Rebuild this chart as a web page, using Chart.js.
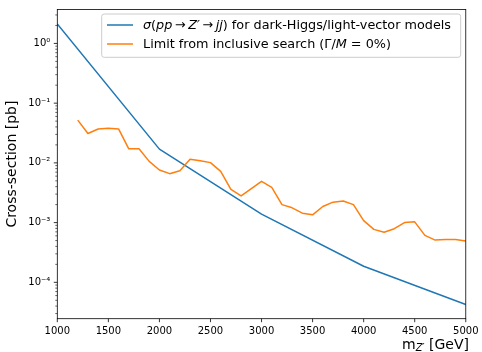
<!DOCTYPE html>
<html>
<head>
<meta charset="utf-8">
<script src="https://cdn.jsdelivr.net/npm/chart.js@4/dist/chart.umd.min.js"></script>
<style>
  html, body { margin: 0; padding: 0; background: #fff; }
</style>
</head>
<body>
<canvas id="xsec" width="482" height="352"></canvas>
<script>
// Z' -> jj cross-section (theory) and observed limit, in pb
const massTheory = [1000, 2000, 3000, 4000, 5000];
const xsecTheory = [2.12, 0.017, 0.00139, 0.000186, 0.0000424];

const massLimit = [1200, 1300, 1400, 1500, 1600, 1700, 1800, 1900, 2000, 2100,
  2200, 2300, 2400, 2500, 2600, 2700, 2800, 2900, 3000, 3100,
  3200, 3300, 3400, 3500, 3600, 3700, 3800, 3900, 4000, 4100,
  4200, 4300, 4400, 4500, 4600, 4700, 4800, 4900, 5000];
const xsecLimit = [0.052, 0.031, 0.037, 0.038, 0.037, 0.0172, 0.0172, 0.0106, 0.0076, 0.0066,
  0.0074, 0.0115, 0.0109, 0.0101, 0.0072, 0.0036, 0.0028, 0.0037, 0.0049, 0.0039,
  0.0020, 0.00177, 0.00144, 0.00135, 0.00186, 0.0022, 0.0023, 0.0020, 0.00108, 0.00077,
  0.00069, 0.00079, 0.00100, 0.00103, 0.00061, 0.00051, 0.00052, 0.00052, 0.00049];

const xTickValues = [1000, 1500, 2000, 2500, 3000, 3500, 4000, 4500, 5000];
const yDecades = [1e-4, 1e-3, 1e-2, 1e-1, 1];
const yDecadeLabels = ['10⁻⁴', '10⁻³', '10⁻²', '10⁻¹', '10⁰'];

const legendRows = [
  [{ t: 'σ', it: true }, { t: '(' }, { t: 'pp', it: true }, { t: '\u2009→\u2009' }, { t: 'Z′', it: true },
   { t: '\u2009→\u2009' }, { t: 'jj', it: true }, { t: ')' }, { t: ' for dark-Higgs/light-vector models' }],
  [{ t: 'Limit from inclusive search (' }, { t: 'Γ' }, { t: '/' }, { t: 'M', it: true },
   { t: ' = ' }, { t: '0%)' }]
];

const BLUE = '#1f77b4';
const ORANGE = '#ff7f0e';
const FONT = '"DejaVu Sans", sans-serif';

const yMin = 2.46e-5, yMax = 3.7;

// all tick positions on the log axis: 2..9 x 10^n plus the decades
function logTicks(lo, hi) {
  const out = [];
  for (let e = Math.floor(Math.log10(lo)); e <= Math.ceil(Math.log10(hi)); e++) {
    for (let m = 1; m < 10; m++) {
      const v = m * Math.pow(10, e);
      if (v >= lo && v <= hi) out.push(v);
    }
  }
  return out;
}

function isDecade(v) {
  const l = Math.log10(v);
  return Math.abs(l - Math.round(l)) < 1e-9;
}

function drawRich(ctx, x, y, segs, size) {
  for (const s of segs) {
    ctx.font = (s.it ? 'italic ' : '') + (s.size || size) + 'px ' + FONT;
    ctx.fillText(s.t, x, y + (s.dy || 0));
    x += ctx.measureText(s.t).width;
  }
  return x;
}

function richWidth(ctx, segs, size) {
  let w = 0;
  for (const s of segs) {
    ctx.font = (s.it ? 'italic ' : '') + (s.size || size) + 'px ' + FONT;
    w += ctx.measureText(s.t).width;
  }
  return w;
}

// spines, tick marks, legend box and axis titles
const decorations = {
  id: 'decorations',
  afterDraw(chart) {
    const ctx = chart.ctx;
    const area = chart.chartArea;
    const xs = chart.scales.x, ys = chart.scales.y;
    ctx.save();

    ctx.strokeStyle = '#000';
    ctx.lineWidth = 0.8;
    ctx.strokeRect(area.left, area.top, area.right - area.left, area.bottom - area.top);

    ctx.beginPath();
    for (const v of xTickValues) {
      const px = xs.getPixelForValue(v);
      ctx.moveTo(px, area.bottom);
      ctx.lineTo(px, area.bottom + 3.5);
    }
    for (const v of yDecades) {
      const py = ys.getPixelForValue(v);
      ctx.moveTo(area.left, py);
      ctx.lineTo(area.left - 3.5, py);
    }
    ctx.stroke();

    ctx.lineWidth = 0.6;
    ctx.beginPath();
    for (const v of logTicks(yMin, yMax)) {
      if (isDecade(v)) continue;
      const py = ys.getPixelForValue(v);
      ctx.moveTo(area.left, py);
      ctx.lineTo(area.left - 2, py);
    }
    ctx.stroke();

    // legend
    const bx = 101.7, by = 14, bw = 359, bh = 43.3;
    ctx.fillStyle = 'rgba(255,255,255,0.8)';
    ctx.strokeStyle = '#cccccc';
    ctx.lineWidth = 1;
    ctx.beginPath();
    ctx.roundRect(bx, by, bw, bh, 2.5);
    ctx.fill();
    ctx.stroke();

    const rowY = [25, 44];
    const colors = [BLUE, ORANGE];
    ctx.lineWidth = 1.5;
    for (let i = 0; i < 2; i++) {
      ctx.strokeStyle = colors[i];
      ctx.beginPath();
      ctx.moveTo(107, rowY[i]);
      ctx.lineTo(133, rowY[i]);
      ctx.stroke();
    }
    ctx.fillStyle = '#000';
    ctx.textBaseline = 'middle';
    ctx.textAlign = 'left';
    for (let i = 0; i < 2; i++) drawRich(ctx, 143, rowY[i] + 0.5, legendRows[i], 12.8);

    // x title, right aligned to the axes
    ctx.textBaseline = 'alphabetic';
    const xTitle = [{ t: 'm' }, { t: 'Z′', it: true, size: 9.8, dy: 2.5 }, { t: ' [GeV]' }];
    const w = richWidth(ctx, xTitle, 14);
    drawRich(ctx, 469 - w, 348.5, xTitle, 14);

    // y title
    ctx.textBaseline = 'middle';
    ctx.translate(12, (area.top + area.bottom) / 2);
    ctx.rotate(-Math.PI / 2);
    ctx.textAlign = 'center';
    ctx.font = '14px ' + FONT;
    ctx.fillText('Cross-section [pb]', 0, 0);

    ctx.restore();
  }
};

const tickFont = { family: FONT, size: 10 };

new Chart(document.getElementById('xsec'), {
  type: 'line',
  data: {
    datasets: [
      {
        label: 'theory',
        data: massTheory.map((m, i) => ({ x: m, y: xsecTheory[i] })),
        borderColor: BLUE,
        borderWidth: 1.5,
        pointRadius: 0,
        borderJoinStyle: 'round',
        fill: false,
        order: 1
      },
      {
        label: 'limit',
        data: massLimit.map((m, i) => ({ x: m, y: xsecLimit[i] })),
        borderColor: ORANGE,
        borderWidth: 1.5,
        pointRadius: 0,
        borderJoinStyle: 'round',
        fill: false,
        order: 0
      }
    ]
  },
  options: {
    responsive: false,
    animation: false,
    layout: { padding: { left: 0, right: 15.3, top: 6.7, bottom: 0 } },
    plugins: { legend: { display: false }, tooltip: { enabled: false } },
    scales: {
      x: {
        type: 'linear',
        min: 1000,
        max: 5000,
        afterFit: s => { s.height = 33.3; },
        afterBuildTicks: s => { s.ticks = xTickValues.map(v => ({ value: v })); },
        ticks: {
          autoSkip: false, maxRotation: 0, padding: 3.5, color: '#000', font: tickFont,
          callback: v => String(v)
        },
        grid: { display: true, drawOnChartArea: false, tickLength: 3.5, color: 'rgba(0,0,0,0)' },
        border: { display: false }
      },
      y: {
        type: 'logarithmic',
        min: yMin,
        max: yMax,
        afterFit: s => { s.width = 57.3; },
        afterBuildTicks: s => { s.ticks = logTicks(yMin, yMax).map(v => ({ value: v })); },
        ticks: {
          autoSkip: false, padding: 3.5, color: '#000', font: tickFont,
          callback: v => {
            const k = yDecades.findIndex(d => Math.abs(d - v) / d < 1e-9);
            return k >= 0 ? yDecadeLabels[k] : '';
          }
        },
        grid: { display: true, drawOnChartArea: false, tickLength: 3.5, color: 'rgba(0,0,0,0)' },
        border: { display: false }
      }
    }
  },
  plugins: [decorations]
});
</script>
</body>
</html>
